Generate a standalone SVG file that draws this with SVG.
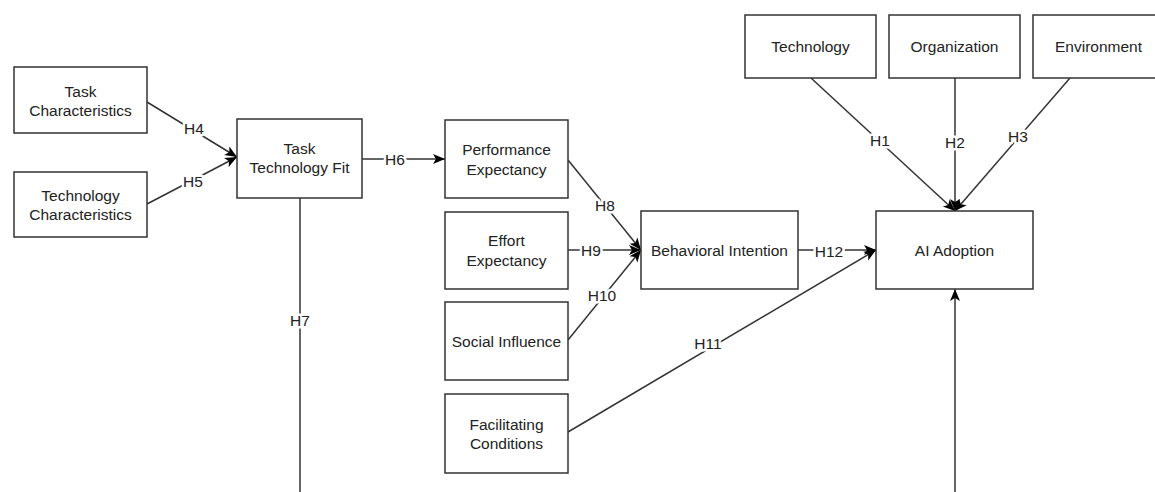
<svg xmlns="http://www.w3.org/2000/svg" width="1155" height="492" viewBox="0 0 1155 492">
<defs>
<style>
.box{fill:#fff;stroke:#333;stroke-width:1.5}
.t{font-family:"Liberation Sans",Arial,sans-serif;font-size:15.5px;fill:#222;text-anchor:middle;dominant-baseline:central}
.c{stroke:#333;stroke-width:1.5;fill:none}
.a{marker-end:url(#arr)}
.lbl{font-family:"Liberation Sans",Arial,sans-serif;font-size:15.5px;fill:#222;text-anchor:middle;dominant-baseline:central;stroke:#fff;stroke-width:5;paint-order:stroke;stroke-linejoin:round}
</style>
<marker id="arr" markerUnits="userSpaceOnUse" markerWidth="14" markerHeight="12" refX="12" refY="5" orient="auto" viewBox="0 0 14 10">
<path d="M0,0 L12,5 L0,10 L3,5 z" fill="#000"/>
</marker>
</defs>
<rect width="1155" height="492" fill="#fff"/>
<g id="connectors">
<line class="c a" x1="147" y1="102" x2="237" y2="157"/>
<line class="c a" x1="147" y1="204" x2="237" y2="157"/>
<line class="c a" x1="362" y1="159" x2="445" y2="159"/>
<line class="c" x1="300" y1="198" x2="300" y2="492"/>
<line class="c a" x1="568" y1="160" x2="641" y2="250"/>
<line class="c a" x1="568" y1="250" x2="641" y2="250"/>
<line class="c a" x1="568" y1="340" x2="641" y2="250"/>
<line class="c a" x1="568" y1="432" x2="876" y2="250"/>
<line class="c a" x1="798" y1="250" x2="876" y2="250"/>
<line class="c a" x1="811" y1="78" x2="955" y2="211"/>
<line class="c a" x1="955" y1="78" x2="955" y2="211"/>
<line class="c a" x1="1070" y1="78" x2="955" y2="211"/>
<line class="c a" x1="955" y1="492" x2="955" y2="289"/>
<text class="lbl" x="194" y="128">H4</text>
<text class="lbl" x="193" y="181">H5</text>
<text class="lbl" x="395" y="159">H6</text>
<text class="lbl" x="300" y="320">H7</text>
<text class="lbl" x="605" y="205">H8</text>
<text class="lbl" x="591" y="250">H9</text>
<text class="lbl" x="602" y="295">H10</text>
<text class="lbl" x="708" y="343">H11</text>
<text class="lbl" x="829" y="251">H12</text>
<text class="lbl" x="880" y="140">H1</text>
<text class="lbl" x="955" y="142">H2</text>
<text class="lbl" x="1018" y="136">H3</text>
</g>
<g id="task-characteristics"><rect class="box" x="14" y="67" width="133" height="66"/><text class="t" x="80.5" y="91">Task</text><text class="t" x="80.5" y="110">Characteristics</text></g>
<g id="technology-characteristics"><rect class="box" x="14" y="172" width="133" height="65"/><text class="t" x="80.5" y="195">Technology</text><text class="t" x="80.5" y="214">Characteristics</text></g>
<g id="task-technology-fit"><rect class="box" x="237" y="119" width="125" height="79"/><text class="t" x="299.5" y="148">Task</text><text class="t" x="299.5" y="167">Technology Fit</text></g>
<g id="performance-expectancy"><rect class="box" x="445" y="120" width="123" height="78"/><text class="t" x="506.5" y="149">Performance</text><text class="t" x="506.5" y="169">Expectancy</text></g>
<g id="effort-expectancy"><rect class="box" x="445" y="212" width="123" height="77"/><text class="t" x="506.5" y="240">Effort</text><text class="t" x="506.5" y="260">Expectancy</text></g>
<g id="social-influence"><rect class="box" x="445" y="302" width="123" height="78"/><text class="t" x="506.5" y="341">Social Influence</text></g>
<g id="facilitating-conditions"><rect class="box" x="445" y="394" width="123" height="79"/><text class="t" x="506.5" y="424">Facilitating</text><text class="t" x="506.5" y="443">Conditions</text></g>
<g id="behavioral-intention"><rect class="box" x="641" y="211" width="157" height="78"/><text class="t" x="719.5" y="250">Behavioral Intention</text></g>
<g id="ai-adoption"><rect class="box" x="876" y="211" width="157" height="78"/><text class="t" x="954.5" y="250">AI Adoption</text></g>
<g id="technology"><rect class="box" x="745" y="15" width="131" height="63"/><text class="t" x="810.5" y="46">Technology</text></g>
<g id="organization"><rect class="box" x="889" y="15" width="131" height="63"/><text class="t" x="954.5" y="46">Organization</text></g>
<g id="environment"><rect class="box" x="1033" y="15" width="131" height="63"/><text class="t" x="1098.5" y="46">Environment</text></g>
</svg>
